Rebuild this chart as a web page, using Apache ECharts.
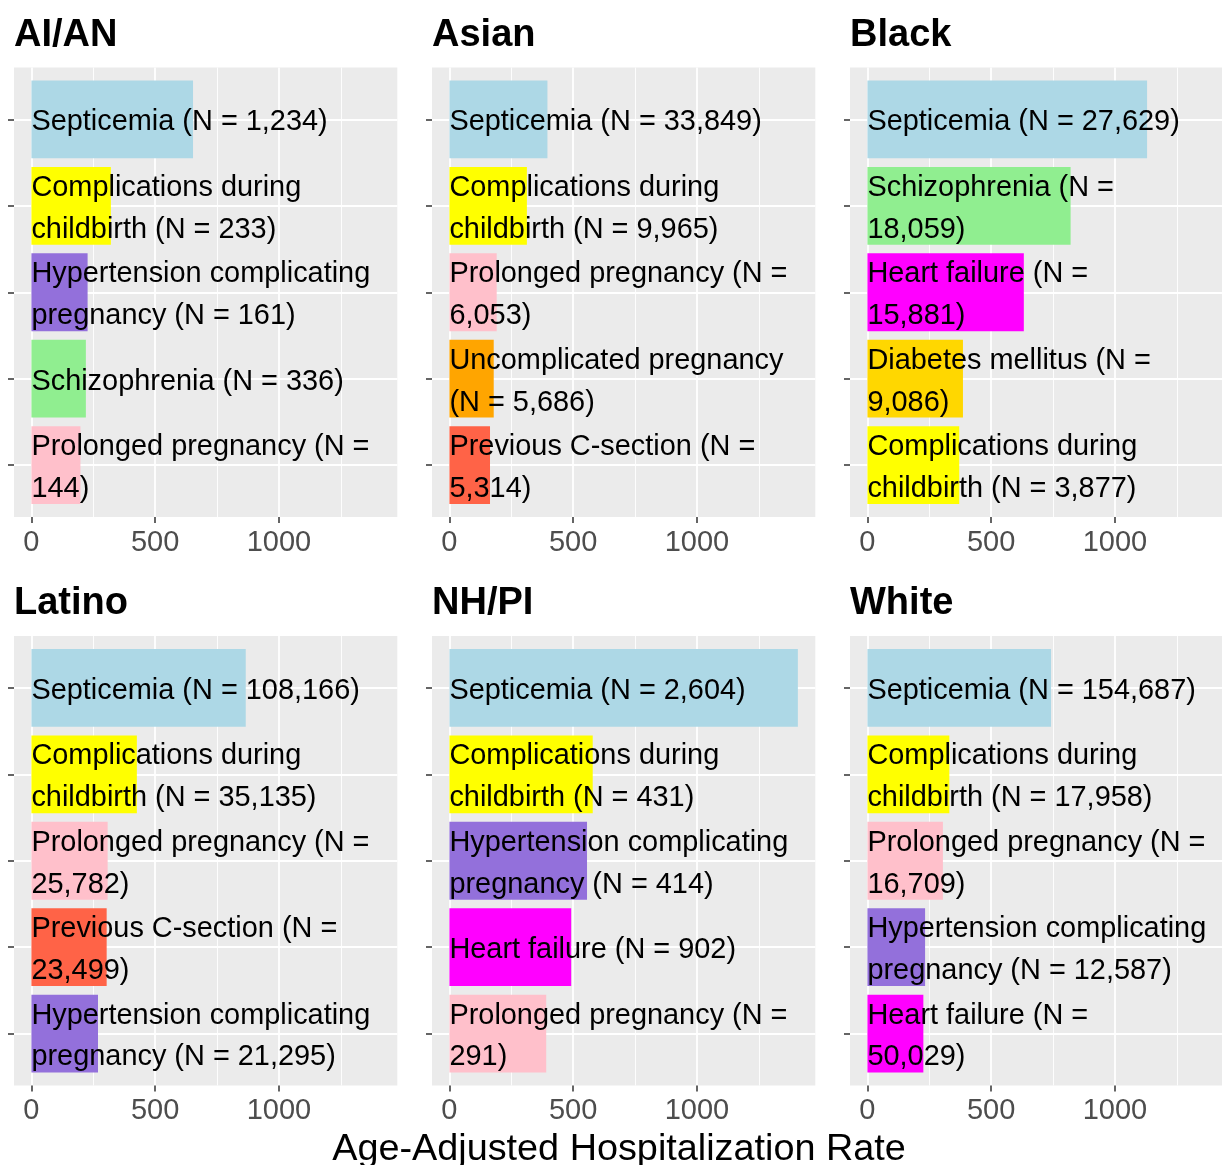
<!DOCTYPE html>
<html><head><meta charset="utf-8">
<script src="https://cdn.jsdelivr.net/npm/echarts@6/dist/echarts.min.js"></script>
<style>html,body{margin:0;padding:0;background:#fff}#chart{width:1222px;height:1165px}</style>
</head><body><div id="chart"></div>
<script>
// ---------- data ----------
const groups = ['AI/AN', 'Asian', 'Black', 'Latino', 'NH/PI', 'White'];

const aianConditions = ['Septicemia', 'Complications during childbirth', 'Hypertension complicating pregnancy', 'Schizophrenia', 'Prolonged pregnancy'];
const aianCounts = [1234, 233, 161, 336, 144];
const aianRates = [653, 321, 227, 220, 198];

const asianConditions = ['Septicemia', 'Complications during childbirth', 'Prolonged pregnancy', 'Uncomplicated pregnancy', 'Previous C-section'];
const asianCounts = [33849, 9965, 6053, 5686, 5314];
const asianRates = [396, 313, 191, 179, 164];

const blackConditions = ['Septicemia', 'Schizophrenia', 'Heart failure', 'Diabetes mellitus', 'Complications during childbirth'];
const blackCounts = [27629, 18059, 15881, 9086, 3877];
const blackRates = [1130, 821, 632, 386, 371];

const latinoConditions = ['Septicemia', 'Complications during childbirth', 'Prolonged pregnancy', 'Previous C-section', 'Hypertension complicating pregnancy'];
const latinoCounts = [108166, 35135, 25782, 23499, 21295];
const latinoRates = [866, 426, 308, 304, 269];

const nhpiConditions = ['Septicemia', 'Complications during childbirth', 'Hypertension complicating pregnancy', 'Heart failure', 'Prolonged pregnancy'];
const nhpiCounts = [2604, 431, 414, 902, 291];
const nhpiRates = [1408, 579, 556, 492, 391];

const whiteConditions = ['Septicemia', 'Complications during childbirth', 'Prolonged pregnancy', 'Hypertension complicating pregnancy', 'Heart failure'];
const whiteCounts = [154687, 17958, 16709, 12587, 50029];
const whiteRates = [742, 331, 305, 233, 226];

const majorBreaks = [0, 500, 1000];
const minorBreaks = [250, 750, 1250];
const xTitle = 'Age-Adjusted Hospitalization Rate';

const conditionColors = {
  'Septicemia': '#ADD8E6',
  'Complications during childbirth': '#FFFF00',
  'Hypertension complicating pregnancy': '#9370DB',
  'Schizophrenia': '#90EE90',
  'Prolonged pregnancy': '#FFC0CB',
  'Uncomplicated pregnancy': '#FFA500',
  'Previous C-section': '#FF6347',
  'Heart failure': '#FF00FF',
  'Diabetes mellitus': '#FFD700'
};

// ---------- build ----------
const panels = [
  {cond: aianConditions, n: aianCounts, rate: aianRates},
  {cond: asianConditions, n: asianCounts, rate: asianRates},
  {cond: blackConditions, n: blackCounts, rate: blackRates},
  {cond: latinoConditions, n: latinoCounts, rate: latinoRates},
  {cond: nhpiConditions, n: nhpiCounts, rate: nhpiRates},
  {cond: whiteConditions, n: whiteCounts, rate: whiteRates}
];

const FONT = '"Liberation Sans", Arial, Helvetica, sans-serif';
function wrap(s, width) {
  const words = s.split(' ');
  const lines = [];
  let cur = '';
  for (const w of words) {
    if (!cur) cur = w;
    else if ((cur + ' ' + w).length <= width) cur += ' ' + w;
    else { lines.push(cur); cur = w; }
  }
  if (cur) lines.push(cur);
  return lines.join('\n');
}
const fmt = v => v.toLocaleString('en-US');

const maxRate = Math.max(...panels.flatMap(p => p.rate));
const xLo = -0.05 * maxRate, xHi = 1.05 * maxRate;

const panelLeft = [14, 432, 850];
const panelTop = [67.5, 636];
const panelW = 383.3, panelH = 449.5;
const unit = panelH / 5.2;

const grid = [], xAxis = [], yAxis = [], series = [], title = [];
panels.forEach((p, i) => {
  const L = panelLeft[i % 3], T = panelTop[Math.floor(i / 3)];
  const labels = p.cond.map((c, j) => wrap(c + ' (N = ' + fmt(p.n[j]) + ')', 25));
  const centers = p.cond.map((c, j) => j + 1);
  // background grid
  grid.push({left: L, top: T, width: panelW, height: panelH, show: true, backgroundColor: '#EBEBEB', borderWidth: 0, containLabel: false, outerBoundsMode: 'none'});
  // data grid
  grid.push({left: L, top: T + 0.1 * unit, width: panelW, height: 5 * unit, show: false, containLabel: false, outerBoundsMode: 'none'});
  const bg = 2 * i, dg = 2 * i + 1;
  xAxis.push({
    type: 'value', gridIndex: bg, min: xLo, max: xHi, position: 'bottom',
    axisLine: {show: false, onZero: false},
    axisTick: {show: true, length: 6, customValues: majorBreaks, lineStyle: {color: '#333333', width: 1.5}},
    axisLabel: {show: true, customValues: majorBreaks, formatter: v => String(v), color: '#4D4D4D', fontSize: 29, fontFamily: FONT, margin: 11},
    splitLine: {show: true, lineStyle: {color: '#FFFFFF', width: 1.8}}
  });
  xAxis.push({
    type: 'value', gridIndex: bg, min: xLo, max: xHi, position: 'bottom',
    axisLine: {show: false, onZero: false},
    axisTick: {show: false, customValues: minorBreaks},
    axisLabel: {show: false, customValues: minorBreaks},
    splitLine: {show: true, lineStyle: {color: '#FFFFFF', width: 0.9}}
  });
  xAxis.push({
    type: 'value', gridIndex: dg, min: xLo, max: xHi, show: false,
    splitLine: {show: false}
  });
  yAxis.push({
    type: 'value', gridIndex: bg, min: 0.4, max: 5.6, inverse: true, position: 'left',
    axisLine: {show: false, onZero: false},
    axisLabel: {show: false, customValues: centers},
    axisTick: {show: true, length: 6, customValues: centers, lineStyle: {color: '#333333', width: 1.5}},
    splitLine: {show: true, lineStyle: {color: '#FFFFFF', width: 1.8}}
  });
  yAxis.push({
    type: 'category', gridIndex: dg, data: p.cond, inverse: true, show: false
  });
  series.push({
    type: 'bar', xAxisIndex: 3 * i + 2, yAxisIndex: dg,
    barCategoryGap: '10%', silent: true, animation: false,
    data: p.rate.map((v, j) => ({value: v, itemStyle: {color: conditionColors[p.cond[j]]}})),
    label: {
      show: true, position: 'insideLeft', distance: 0, offset: [0, 3],
      color: '#000000', fontSize: 28.9, lineHeight: 41.7, fontFamily: FONT, textBorderWidth: 0,
      formatter: params => labels[params.dataIndex]
    }
  });
  title.push({
    text: groups[i], left: L, top: (i < 3 ? 17 : 585), padding: 0,
    textStyle: {fontSize: 38, fontWeight: 'bold', color: '#000000', fontFamily: FONT}
  });
});

const chart = echarts.init(document.getElementById('chart'), null, {renderer: 'canvas'});
chart.setOption({
  animation: false,
  backgroundColor: '#FFFFFF',
  title, grid, xAxis, yAxis, series,
  graphic: [{
    type: 'text', x: 619, y: 1150, silent: true,
    style: {text: xTitle, fill: '#000000', font: '37.8px "Liberation Sans", Arial, sans-serif', align: 'center', verticalAlign: 'middle', textAlign: 'center', textVerticalAlign: 'middle'}
  }]
});
</script>
</body></html>
